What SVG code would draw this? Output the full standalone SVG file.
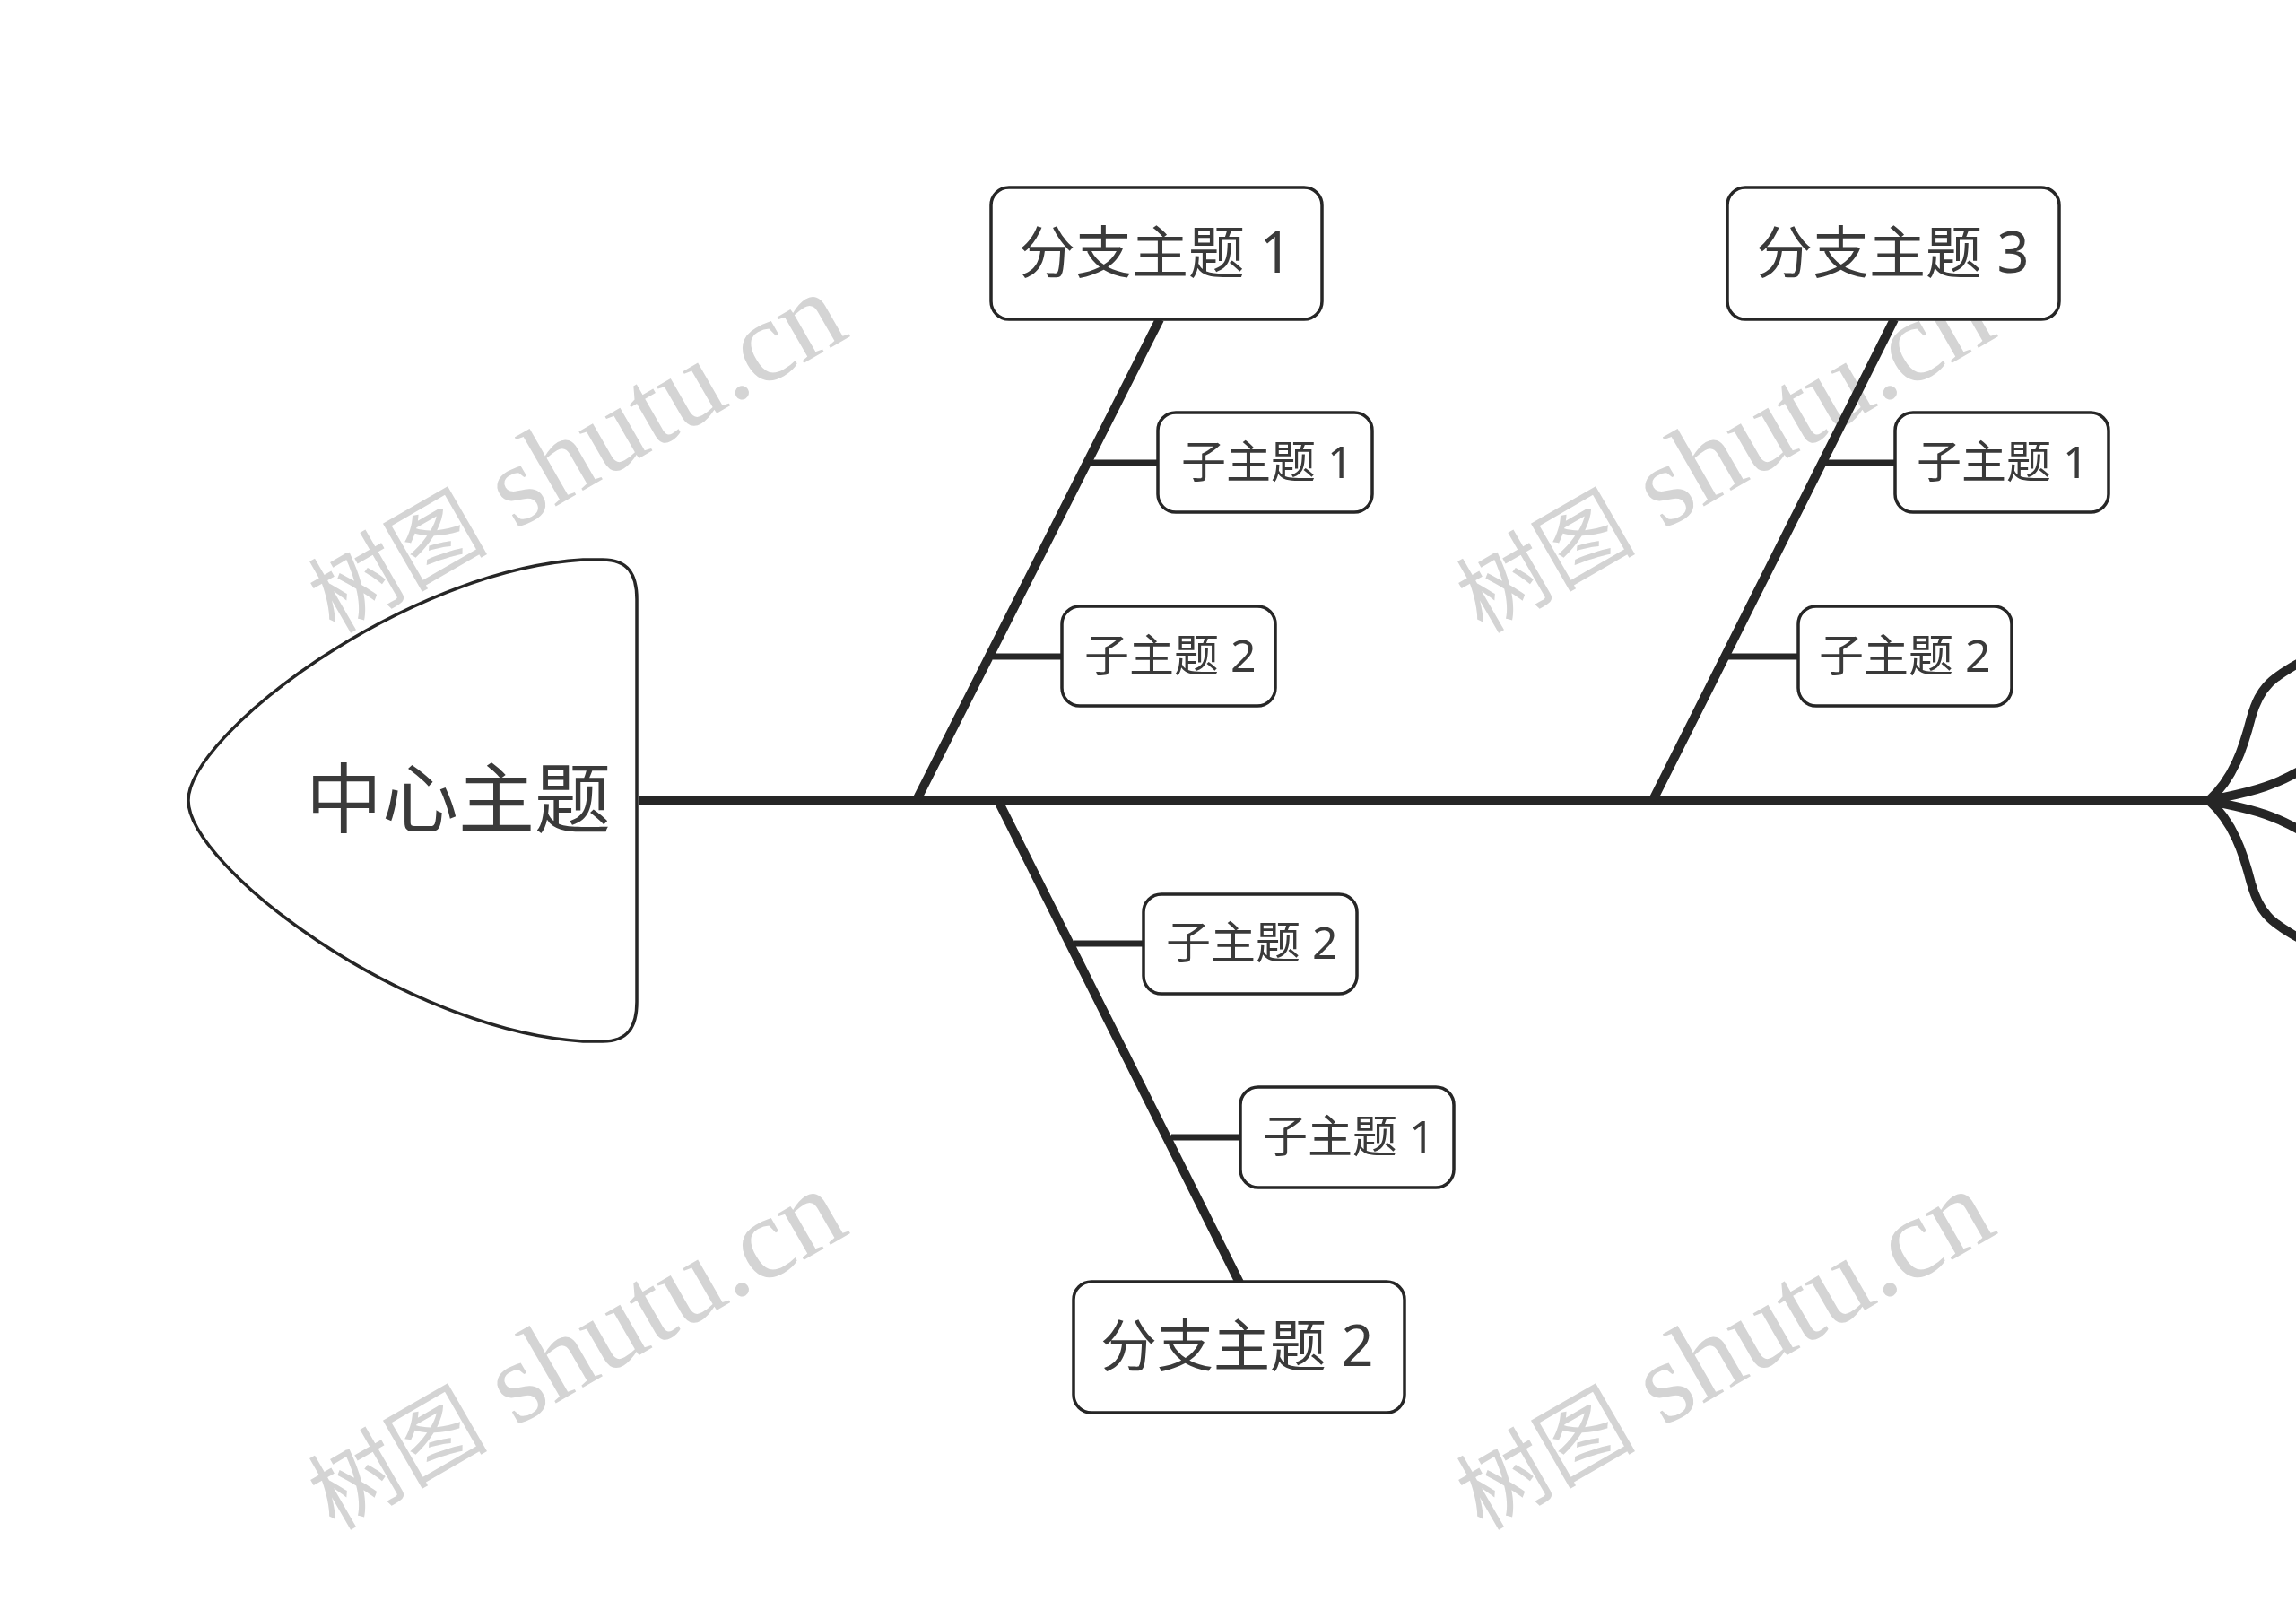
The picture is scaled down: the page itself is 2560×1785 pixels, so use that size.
<svg xmlns="http://www.w3.org/2000/svg" width="2560" height="1785" viewBox="0 0 2560 1785">
<style>
.wm{font-family:"Liberation Serif","Noto Sans CJK SC",serif;font-size:129px;fill:#d4d4d4}
.wm .c{font-family:"Noto Sans CJK SC",serif;font-size:100px}
.ln{fill:none;stroke:#262626;stroke-linecap:butt}
.b{stroke-width:10}.s{stroke-width:7}
.box{fill:#fff;stroke:#262626;stroke-width:3.5}
text.t{font-family:"Noto Sans","Noto Sans CJK SC",sans-serif;fill:#3a3a3a}
.f1{font-size:63px}.f2{font-size:50px}
</style>
<rect width="2560" height="1785" fill="#fff"/>
<g id="watermarks">
<text class="wm" transform="translate(373 707) rotate(-30)"><tspan class="c">树图</tspan> shutu.cn</text>
<text class="wm" transform="translate(1653 707) rotate(-30)"><tspan class="c">树图</tspan> shutu.cn</text>
<text class="wm" transform="translate(373 1707) rotate(-30)"><tspan class="c">树图</tspan> shutu.cn</text>
<text class="wm" transform="translate(1653 1707) rotate(-30)"><tspan class="c">树图</tspan> shutu.cn</text>
</g>
<g id="connectors">
<path class="ln b" d="M712 892.5H2468"/>
<path class="ln b" d="M1293 356L1022 892M2112 356L1843 892M1113 893L1382 1430"/>
<path class="ln s" d="M1215 516H1291M1107 732H1184M2033 516H2113M1925 732H2005M1197 1052H1275M1306 1268H1383"/>
<path class="ln b" d="M2463 892.5C2490 868 2501 835 2510 800C2520 765 2532 755 2580 730M2463 892.5C2500 884 2530 882 2580 850M2463 892.5C2500 901 2530 903 2580 935M2463 892.5C2490 917 2501 950 2510 985C2520 1020 2532 1030 2580 1055"/>
</g>
<g id="center">
<path d="M210 892.5C210 820 450 636 650 624H672C700 624 710 640 710 668V1117C710 1145 700 1161 672 1161H650C450 1149 210 965 210 892.5Z" fill="#fff" stroke="#262626" stroke-width="3.5"/>
<text class="t" x="341" y="922" font-size="85">中心主题</text>
</g>
<g id="branch1"><rect class="box" x="1105" y="209" width="369" height="147" rx="20"/><text class="t f1" x="1136" y="304">分支主题 1</text></g>
<g id="branch1-sub1"><rect class="box" x="1291" y="460" width="239" height="111" rx="20"/><text class="t f2" x="1317" y="533">子主题 1</text></g>
<g id="branch1-sub2"><rect class="box" x="1184" y="676" width="238" height="111" rx="20"/><text class="t f2" x="1209" y="749">子主题 2</text></g>
<g id="branch3"><rect class="box" x="1926" y="209" width="370" height="147" rx="20"/><text class="t f1" x="1958" y="304">分支主题 3</text></g>
<g id="branch3-sub1"><rect class="box" x="2113" y="460" width="238" height="111" rx="20"/><text class="t f2" x="2137" y="533">子主题 1</text></g>
<g id="branch3-sub2"><rect class="box" x="2005" y="676" width="238" height="111" rx="20"/><text class="t f2" x="2028" y="749">子主题 2</text></g>
<g id="branch2"><rect class="box" x="1197" y="1429" width="369" height="146" rx="20"/><text class="t f1" x="1227" y="1523">分支主题 2</text></g>
<g id="branch2-sub2"><rect class="box" x="1275" y="997" width="238" height="111" rx="20"/><text class="t f2" x="1300" y="1069">子主题 2</text></g>
<g id="branch2-sub1"><rect class="box" x="1383" y="1212" width="238" height="112" rx="20"/><text class="t f2" x="1408" y="1285">子主题 1</text></g>
</svg>
